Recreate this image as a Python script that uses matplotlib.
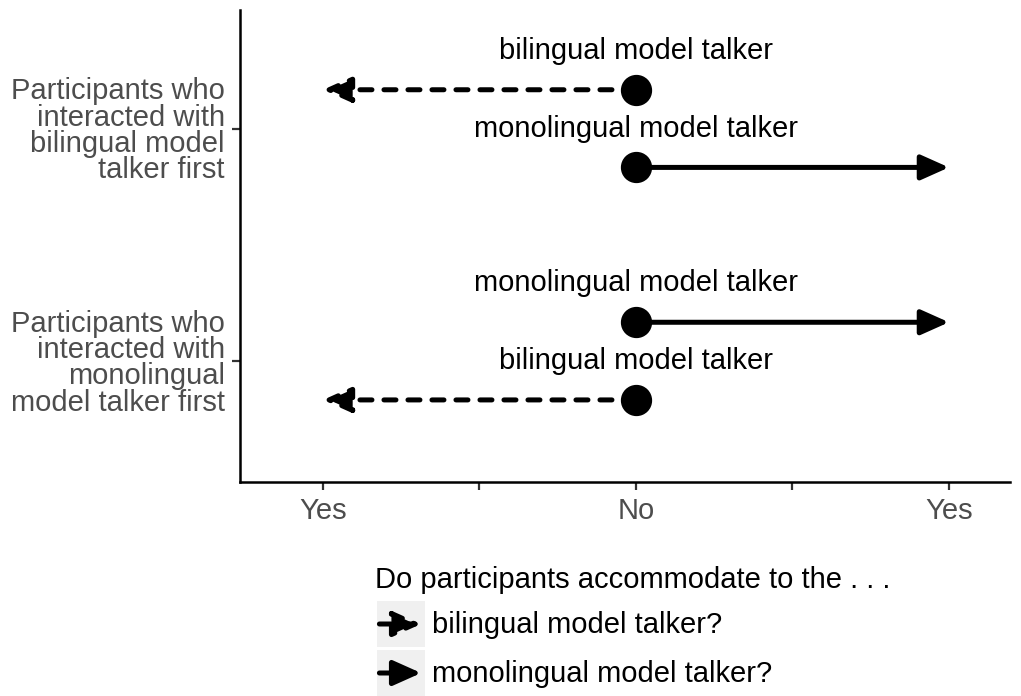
import matplotlib.pyplot as plt

plt.rcParams['font.family'] = ['Liberation Sans', 'DejaVu Sans']

# rows (top to bottom) and the two talkers within each row
row_labels = ['Participants who\ninteracted with\nbilingual model\ntalker first',
              'Participants who\ninteracted with\nmonolingual\nmodel talker first']
row_pos = [2, 1]
talker_order = [['bilingual model talker', 'monolingual model talker'],
                ['monolingual model talker', 'bilingual model talker']]
# 0 = "No" (start), -1 / +1 = "Yes" on each side
arrow_end = {'bilingual model talker': -1, 'monolingual model talker': 1}
x_ticks = [-1, -0.5, 0, 0.5, 1]
x_labels = ['Yes', '', 'No', '', 'Yes']
legend_title = 'Do participants accommodate to the . . .'
legend_labels = ['bilingual model talker?', 'monolingual model talker?']

dodge = 0.167
lw = 3.6
dash = (0, (2.4, 2.4))
fs = 21
head = '-|>,head_length=0.85,head_width=0.38'

fig = plt.figure(figsize=(10.21, 6.96), dpi=100)
ax = fig.add_axes([240 / 1021, 1 - 482 / 696, 770 / 1021, 472 / 696])

for r, talkers in zip(row_pos, talker_order):
    for k, t in enumerate(talkers):
        y = r + dodge * (1 - 2 * k)
        end = arrow_end[t]
        ls = dash if end < 0 else '-'
        ax.annotate('', xy=(end, y), xytext=(0, y),
                    arrowprops=dict(arrowstyle=head, lw=lw, color='black', linestyle=ls,
                                    shrinkA=0, shrinkB=0, mutation_scale=20))
        ax.plot(0, y, 'o', color='black', markersize=21.5, zorder=5)
        ax.text(0, y + dodge, t, ha='center', va='center', fontsize=fs)

ax.set_xlim(-1.265, 1.195)
ax.set_ylim(0.48, 2.51)
ax.set_xticks(x_ticks)
ax.set_xticklabels(x_labels)
ax.set_yticks(row_pos)
ax.set_yticklabels(row_labels, linespacing=0.92, ha='right')
ax.tick_params(axis='both', length=6, width=1.6, color='#333333',
               labelcolor='#4D4D4D', labelsize=fs, pad=5)
for s in ['top', 'right']:
    ax.spines[s].set_visible(False)
for s in ['left', 'bottom']:
    ax.spines[s].set_linewidth(1.8)
    ax.spines[s].set_color('black')

# legend drawn by hand
fig.text(375 / 1021, 1 - 580 / 696, legend_title, ha='left', va='center', fontsize=fs)
key_top = [601, 650]
for i, lab in enumerate(legend_labels):
    kax = fig.add_axes([377 / 1021, 1 - (key_top[i] + 46) / 696, 48 / 1021, 46 / 696])
    kax.set_facecolor('#F0F0F0')
    kax.set_xlim(0, 1)
    kax.set_ylim(0, 1)
    kax.set_xticks([])
    kax.set_yticks([])
    for s in kax.spines.values():
        s.set_visible(False)
    ls = dash if i == 0 else '-'
    kax.annotate('', xy=(0.92, 0.5), xytext=(0.05, 0.5),
                 arrowprops=dict(arrowstyle=head, lw=lw, color='black', linestyle=ls,
                                 shrinkA=0, shrinkB=0, mutation_scale=20))
    fig.text(432 / 1021, 1 - (key_top[i] + 24) / 696, lab, ha='left', va='center',
             fontsize=fs)

fig.savefig('out.png', dpi=100)
